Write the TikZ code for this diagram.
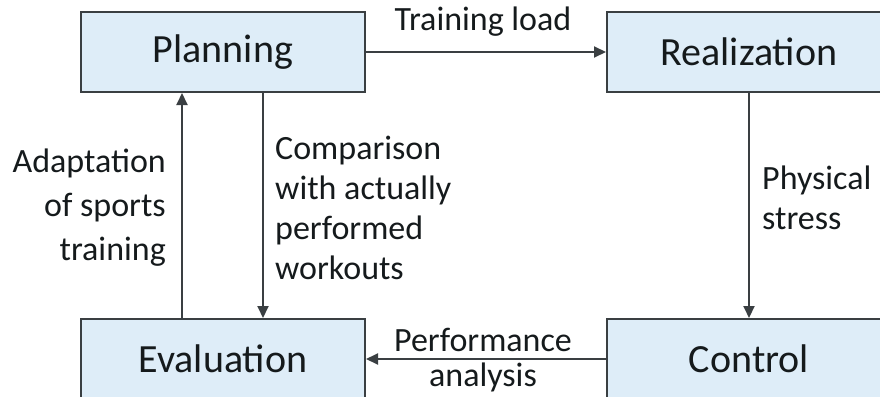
\documentclass[tikz,border=0pt]{standalone}
\usepackage{fontspec}
\setmainfont{Carlito}
\usetikzlibrary{arrows.meta}
\definecolor{boxfill}{HTML}{DEEDF8}
\definecolor{boxline}{HTML}{3A3F42}
\definecolor{txt}{HTML}{151A1C}
\begin{document}
\begin{tikzpicture}[x=1pt,y=-1pt,
  stagebox/.style={draw=boxline, fill=boxfill, line width=2pt, minimum width=284pt, minimum height=80pt, inner sep=0pt, text=txt, font=\fontsize{40}{48}\selectfont},
  flow/.style={draw=boxline, line width=2pt, -{Triangle[length=12pt,width=11pt]}},
  lbl/.style={text=txt, inner sep=0pt, font=\fontsize{34}{41}\selectfont}]
\useasboundingbox (0,0) rectangle (880,396);
\node[stagebox] (P) at (223,52) {Planning};
\node[stagebox] (R) at (749,52) {Realization};
\node[stagebox] (E) at (223,359) {Evaluation};
\node[stagebox] (C) at (749,359) {Control};
\draw[flow] (P.east) -- (R.west);
\draw[flow] (R.south) -- (C.north);
\draw[flow] (C.west) -- (E.east);
\draw[flow] ([xshift=-41pt]E.north) -- ([xshift=-41pt]P.south);
\draw[flow] ([xshift=40pt]P.south) -- ([xshift=40pt]E.north);
\node[lbl] (tl) at (483,22) {Training load};
\node[lbl, align=center, font=\fontsize{34}{35}\selectfont] (pa) at (483,360) {Performance\\analysis};
\node[lbl, align=right, anchor=east, font=\fontsize{34}{44}\selectfont] (ad) at (166,208) {Adaptation\\of sports\\training};
\node[lbl, align=left, anchor=west, font=\fontsize{34}{40}\selectfont] (cw) at (275,208) {Comparison\\with actually\\performed\\workouts};
\node[lbl, align=left, anchor=west, font=\fontsize{34}{40}\selectfont] (ps) at (762,198) {Physical\\stress};
\end{tikzpicture}
\end{document}
